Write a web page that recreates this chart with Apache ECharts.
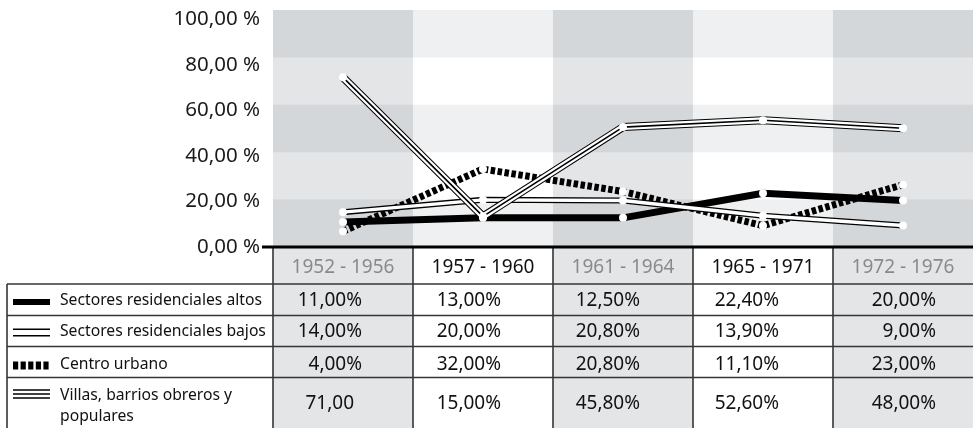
<!DOCTYPE html>
<html>
<head>
<meta charset="utf-8">
<script src="https://cdn.jsdelivr.net/npm/echarts@6/dist/echarts.min.js"></script>
<style>
  html, body { margin: 0; padding: 0; background: #fff; }
  #chart { width: 973px; height: 428px; }
</style>
</head>
<body>
<div id="chart"></div>
<script>
// periodos (categorías)
const periods = ['1952 - 1956', '1957 - 1960', '1961 - 1964', '1965 - 1971', '1972 - 1976']
const seriesNames = ['Sectores residenciales altos', 'Sectores residenciales bajos', 'Centro urbano', 'Villas, barrios obreros y\npopulares']

// valores trazados en el gráfico (%)
const altos = [10.5, 12.3, 12.3, 22.7, 19.6]
const bajos = [14.7, 19.9, 19.6, 13.2, 9.1]
const centro = [6.6, 32.9, 23.4, 9.0, 26.3]
const villas = [71.6, 12.9, 50.6, 53.5, 50.1]

// valores de la tabla, tal como aparecen escritos
const tablaAltos = ['11,00%', '13,00%', '12,50%', '22,40%', '20,00%']
const tablaBajos = ['14,00%', '20,00%', '20,80%', '13,90%', '9,00%']
const tablaCentro = ['4,00%', '32,00%', '20,80%', '11,10%', '23,00%']
const tablaVillas = ['71,00', '15,00%', '45,80%', '52,60%', '48,00%']

const yTickLabels = ['0,00 %', '20,00 %', '40,00 %', '60,00 %', '80,00 %', '100,00 %']

const FONT = '"Noto Sans", sans-serif'

// geometría
const gridLeft = 273
const gridTop = 10
const gridHeight = 237
const colW = 140
const axisY = gridTop + gridHeight
const rowLines = [284, 315.5, 346.5, 377.5]
const rowMid = [301, 331.5, 364.5, 404]
const valueRight = [89, 88, 87, 86, 103]
const lineColor = '#353535'

const chart = echarts.init(document.getElementById('chart'))

// estilos de cada línea (capas superpuestas)
const layers = {
  altos: [{ color: '#000', width: 7 }],
  bajos: [{ color: '#000', width: 6 }, { color: '#fff', width: 3.4 }],
  centro: [{ color: '#000', width: 7, type: [4.5, 2.5] }],
  villas: [{ color: '#000', width: 8 }, { color: '#fff', width: 6 }, { color: '#000', width: 1.6 }]
}

const series = []
const addLine = (data, styleList) => {
  styleList.forEach(s => {
    series.push({
      type: 'line',
      data: data,
      symbol: 'none',
      silent: true,
      lineStyle: { color: s.color, width: s.width, type: s.type || 'solid', cap: 'butt' },
      z: 2
    })
  })
}
addLine(altos, layers.altos)
addLine(centro, layers.centro)
addLine(bajos, layers.bajos)
addLine(villas, layers.villas)

// puntos blancos encima de todo
;[altos, bajos, centro, villas].forEach(d => {
  series.push({
    type: 'scatter',
    data: d,
    symbol: 'circle',
    symbolSize: 8,
    itemStyle: { color: '#fff', opacity: 1 },
    silent: true,
    z: 10
  })
})

// tabla inferior
const graphics = []
const tableBottom = 428
periods.forEach((p, i) => {
  if (i % 2 === 0) {
    graphics.push({
      type: 'rect', z: 0,
      shape: { x: gridLeft + i * colW, y: axisY, width: colW, height: tableBottom - axisY },
      style: { fill: '#e4e5e7' }
    })
  }
})
rowLines.forEach(y => {
  graphics.push({
    type: 'line', z: 1,
    shape: { x1: 7, y1: y, x2: 973, y2: y },
    style: { stroke: lineColor, lineWidth: 1.6 }
  })
})
periods.forEach((p, i) => {
  graphics.push({
    type: 'line', z: 1,
    shape: { x1: gridLeft + i * colW, y1: axisY, x2: gridLeft + i * colW, y2: tableBottom },
    style: { stroke: lineColor, lineWidth: 1.6 }
  })
})
graphics.push({
  type: 'line', z: 1,
  shape: { x1: 7, y1: rowLines[0], x2: 7, y2: tableBottom },
  style: { stroke: lineColor, lineWidth: 1.6 }
})
// línea del eje
graphics.push({
  type: 'line', z: 2,
  shape: { x1: 262, y1: axisY, x2: 973, y2: axisY },
  style: { stroke: '#000', lineWidth: 3 }
})

// cabecera
periods.forEach((p, i) => {
  graphics.push({
    type: 'text', z: 3,
    x: gridLeft + i * colW + colW / 2, y: 268,
    style: { text: p, font: '19px ' + FONT, fill: i % 2 === 0 ? '#8a8a8a' : '#111', align: 'center', verticalAlign: 'middle' }
  })
})

// etiquetas de filas
seriesNames.forEach((name, r) => {
  graphics.push({
    type: 'text', z: 3,
    x: 60, y: r === 3 ? 406.5 : rowMid[r],
    style: { text: name, font: '15.7px ' + FONT, fill: '#111', align: 'left', verticalAlign: 'middle', lineHeight: 21 }
  })
})

// valores de la tabla
;[tablaAltos, tablaBajos, tablaCentro, tablaVillas].forEach((row, r) => {
  row.forEach((txt, i) => {
    const shift = txt.indexOf('%') < 0 ? 8 : 0
    graphics.push({
      type: 'text', z: 3,
      x: gridLeft + i * colW + valueRight[i] - shift, y: rowMid[r],
      style: { text: txt, font: '19px ' + FONT, fill: '#111', align: 'right', verticalAlign: 'middle' }
    })
  })
})

// muestras de leyenda
graphics.push({ type: 'rect', z: 3, shape: { x: 13, y: 299, width: 37, height: 6 }, style: { fill: '#000' } })
graphics.push({ type: 'rect', z: 3, shape: { x: 13, y: 328.5, width: 37, height: 8 }, style: { fill: '#000' } })
graphics.push({ type: 'rect', z: 4, shape: { x: 13, y: 330, width: 37, height: 5 }, style: { fill: '#fff' } })
for (let k = 0; k < 5; k++) {
  graphics.push({ type: 'rect', z: 3, shape: { x: 13 + k * 7.6, y: 361.5, width: 5.2, height: 8 }, style: { fill: '#000' } })
}
;[390, 394, 398].forEach(y => {
  graphics.push({ type: 'rect', z: 3, shape: { x: 13, y: y - 0.7, width: 37, height: 1.4 }, style: { fill: '#000' } })
})

const option = {
  animation: false,
  backgroundColor: '#fff',
  grid: { left: gridLeft, top: gridTop, width: colW * periods.length, height: gridHeight },
  xAxis: {
    type: 'category',
    data: periods,
    boundaryGap: true,
    z: 0,
    axisLine: { show: false },
    axisTick: { show: false },
    axisLabel: { show: false },
    splitLine: { show: false },
    splitArea: { show: true, areaStyle: { color: ['#e4e5e7', '#ffffff'] } }
  },
  yAxis: [
    {
      type: 'value', min: 0, max: 100, interval: 20, z: 1,
      axisLine: { show: false },
      axisTick: { show: false },
      axisLabel: { show: false },
      splitLine: { show: false },
      splitArea: { show: true, areaStyle: { color: ['rgba(20,40,60,0.07)', 'rgba(0,0,0,0)'] } }
    },
    {
      type: 'value', min: 0, max: 104, interval: 20, position: 'left', offset: 0,
      axisLine: { show: false },
      axisTick: { show: false },
      splitLine: { show: false },
      axisLabel: {
        margin: 13,
        fontFamily: 'Noto Sans',
        fontSize: 20.5,
        color: '#1a1a1a',
        formatter: v => (v > 100 ? '' : yTickLabels[Math.round(v / 20)])
      }
    }
  ],
  graphic: { elements: graphics },
  series: series
}

chart.setOption(option)
</script>
</body>
</html>
